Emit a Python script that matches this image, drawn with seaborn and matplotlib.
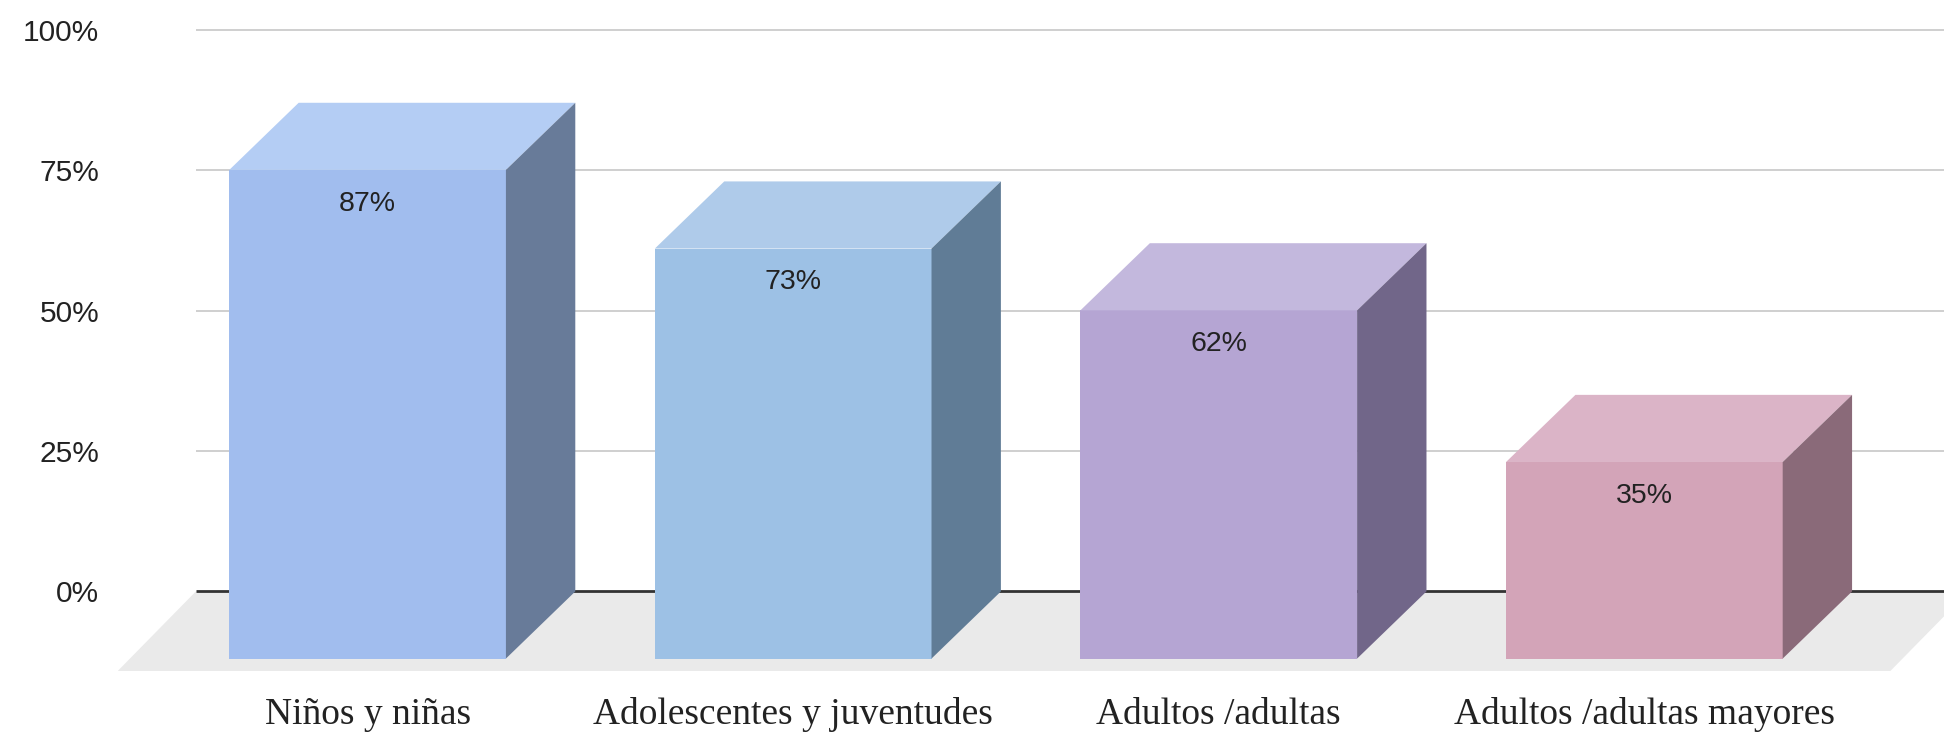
import numpy as np
import pandas as pd
import matplotlib
matplotlib.use("Agg")
import matplotlib.pyplot as plt
import seaborn as sns
from matplotlib.patches import Polygon

# ---- data ----
categories = ["Niños y niñas", "Adolescentes y juventudes", "Adultos /adultas", "Adultos /adultas mayores"]
values = [87, 73, 62, 35]
value_labels = ["87%", "73%", "62%", "35%"]
ytick_values = [0, 25, 50, 75, 100]
ytick_labels = ["0%", "25%", "50%", "75%", "100%"]

# ---- styles ----
front_colors = ["#a1bdee", "#9dc1e5", "#b5a5d3", "#d3a4b8"]
top_colors = ["#b4cdf4", "#afcbea", "#c3b8dd", "#dbb4c7"]
side_colors = ["#687b99", "#607c96", "#716689", "#8a6a79"]

sns.set_theme(style="white")
plt.rcParams["font.family"] = ["Liberation Sans", "DejaVu Sans"]

W, H = 1568.0, 591.0  # layout reference units
fig = plt.figure(figsize=(19.44, 7.33), dpi=100)
ax = fig.add_axes([95 / W, 1 - 541 / H, 1 - 95 / W, (541 - 24) / H])

df = pd.DataFrame({"cat": categories, "val": values})
sns.barplot(data=df, x="cat", y="val", hue="cat", palette=front_colors,
            width=0.65, saturation=1, linewidth=0, legend=False, ax=ax, zorder=3)

DX, DY = 0.163, 11.95      # 3D depth offset (category units, value units)
LABEL_DROP = 6.0
XL, XR = -0.750, 3.541
BACK_LEFT = -0.5666
FLOOR_Y = -14.16
FLOOR_DX = 0.1835

bars = sorted(ax.patches, key=lambda p: p.get_x())
for i, p in enumerate(bars):
    x0, w, h = p.get_x(), p.get_width(), p.get_height()
    p.set_x(x0 - DX)
    p.set_y(-DY)
    p.set_facecolor(front_colors[i])
    top = Polygon([(x0 - DX, h - DY), (x0 + w - DX, h - DY), (x0 + w, h), (x0, h)],
                  closed=True, facecolor=top_colors[i], edgecolor="none", zorder=3)
    side = Polygon([(x0 + w - DX, -DY), (x0 + w, 0), (x0 + w, h), (x0 + w - DX, h - DY)],
                   closed=True, facecolor=side_colors[i], edgecolor="none", zorder=3)
    ax.add_patch(top)
    ax.add_patch(side)
    ax.text(x0 + w / 2 - DX, h - DY - LABEL_DROP, value_labels[i], ha="center", va="center",
            fontsize=20.5, color="#222222", zorder=4)

# floor
floor = Polygon([(BACK_LEFT, 0), (3.415 + FLOOR_DX, 0), (3.415, FLOOR_Y), (BACK_LEFT - FLOOR_DX, FLOOR_Y)],
                closed=True, facecolor="#eaeaea", edgecolor="none", zorder=1)
ax.add_patch(floor)

# gridlines and baseline on the back plane
ax.hlines([v for v in ytick_values if v > 0], BACK_LEFT, XR, color="#cccccc", lw=1.3,
          zorder=0.5, clip_on=False)
ax.hlines(0, BACK_LEFT, XR, color="#333333", lw=2.0, zorder=2)

ax.set_xlim(XL, XR)
ax.set_ylim(FLOOR_Y, 100)
ax.set_yticks(ytick_values, ytick_labels)
ax.set_xticks([i - DX for i in range(len(categories))], categories)
for t in ax.get_xticklabels():
    t.set_fontfamily(["Liberation Serif", "DejaVu Serif"])
    t.set_fontsize(27)
    t.set_color("#222222")
for t in ax.get_yticklabels():
    t.set_fontsize(21.5)
    t.set_color("#222222")
ax.tick_params(axis="x", length=0, pad=19)
ax.tick_params(axis="y", length=0, pad=13.4)
ax.set_xlabel("")
ax.set_ylabel("")
ax.grid(False)
for s in ax.spines.values():
    s.set_visible(False)
ax.set_facecolor("none")

fig.savefig("out.png", dpi=100)
